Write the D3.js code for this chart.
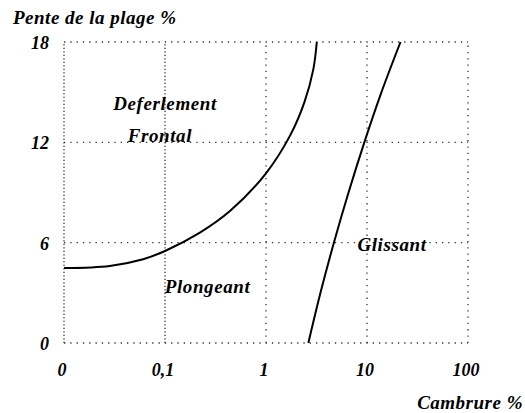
<!DOCTYPE html>
<html>
<head>
<meta charset="utf-8">
<script src="https://cdn.jsdelivr.net/npm/d3@7"></script>
<style>
  html, body { margin: 0; padding: 0; background: #fff; }
</style>
</head>
<body>
<div id="chart"></div>
<script>
// Cambrure % (log axis, "0" drawn at 0.01) vs Pente de la plage %
const xTicks = [0.01, 0.1, 1, 10, 100];
const xTickLabels = ["0", "0,1", "1", "10", "100"];
const yTicks = [0, 6, 12, 18];
const yTickLabels = ["0", "6", "12", "18"];

// boundary Deferlement frontal / Plongeant
const frontalX = [0.01, 0.0284, 0.0607, 0.1, 0.2216, 0.4396, 1.0, 1.730, 2.398, 2.944, 3.183];
const frontalY = [4.48, 4.61, 5.01, 5.50, 6.60, 7.89, 10.15, 12.40, 14.39, 16.38, 18.0];

// boundary Plongeant / Glissant
const glissantX = [2.627, 3.462, 4.701, 6.564, 9.412, 13.91, 21.46];
const glissantY = [0, 3, 6, 9, 12, 15, 18];

const regionLabels = ["Deferlement", "Frontal", "Plongeant", "Glissant"];
const regionX = [0.1, 0.089, 0.264, 17.7];
const regionY = [13.93, 12.0, 3.0, 5.52];

const width = 525, height = 413;
const margin = { top: 42, right: 57, bottom: 70, left: 64 };
const FONT = "'Liberation Serif', 'Times New Roman', Tinos, 'DejaVu Serif', serif";

const svg = d3.select("#chart").append("svg")
    .attr("width", width)
    .attr("height", height)
    .attr("font-family", FONT)
    .attr("font-style", "italic")
    .attr("font-weight", "bold");

const x = d3.scaleLog().domain([0.01, 100]).range([margin.left, width - margin.right]);
const y = d3.scaleLinear().domain([0, 18]).range([height - margin.bottom, margin.top]);

// ---------------------------------------------------------------------------
// Dotted grid
// ---------------------------------------------------------------------------

svg.append("g").selectAll("line")
    .data(yTicks)
    .join("line")
    .attr("x1", x(0.01)).attr("x2", x(100))
    .attr("y1", d => y(d)).attr("y2", d => y(d))
    .attr("stroke", "#333")
    .attr("stroke-width", 1.3)
    .attr("stroke-dasharray", "1.3,5");

svg.append("g").selectAll("line")
    .data(xTicks)
    .join("line")
    .attr("x1", d => x(d)).attr("x2", d => x(d))
    .attr("y1", y(0)).attr("y2", y(18))
    .attr("stroke", "#333")
    .attr("stroke-width", 1.3)
    .attr("stroke-dasharray", (d, i) => i < 2 ? "1.3,2.2" : "1.3,5");

// ---------------------------------------------------------------------------
// Tick labels
// ---------------------------------------------------------------------------

svg.append("g").selectAll("text")
    .data(yTicks)
    .join("text")
    .attr("x", 49)
    .attr("y", d => y(d) + 7)
    .attr("text-anchor", "end")
    .attr("font-size", "18px")
    .text((d, i) => yTickLabels[i]);

svg.append("g").selectAll("text")
    .data(xTicks)
    .join("text")
    .attr("x", d => x(d) - 2)
    .attr("y", 376)
    .attr("text-anchor", "middle")
    .attr("font-size", "18px")
    .text((d, i) => xTickLabels[i]);

svg.append("text")
    .attr("x", 13).attr("y", 24)
    .attr("font-size", "19px")
    .attr("letter-spacing", "0.5px")
    .text("Pente de la plage %");

svg.append("text")
    .attr("x", 523).attr("y", 409)
    .attr("text-anchor", "end")
    .attr("font-size", "19px")
    .attr("letter-spacing", "0.5px")
    .text("Cambrure %");

// ---------------------------------------------------------------------------
// Curves
// ---------------------------------------------------------------------------

const line = d3.line()
    .x(d => x(d[0]))
    .y(d => y(d[1]))
    .curve(d3.curveCatmullRom.alpha(0.5));

svg.append("path")
    .datum(d3.zip(frontalX, frontalY))
    .attr("d", line)
    .attr("fill", "none")
    .attr("stroke", "#000")
    .attr("stroke-width", 2);

svg.append("path")
    .datum(d3.zip(glissantX, glissantY))
    .attr("d", line)
    .attr("fill", "none")
    .attr("stroke", "#000")
    .attr("stroke-width", 2);

// ---------------------------------------------------------------------------
// Region labels
// ---------------------------------------------------------------------------

svg.append("g").selectAll("text")
    .data(regionLabels)
    .join("text")
    .attr("x", (d, i) => x(regionX[i]))
    .attr("y", (d, i) => y(regionY[i]))
    .attr("text-anchor", "middle")
    .attr("font-size", "19px")
    .attr("letter-spacing", "0.6px")
    .text(d => d);
</script>
</body>
</html>
